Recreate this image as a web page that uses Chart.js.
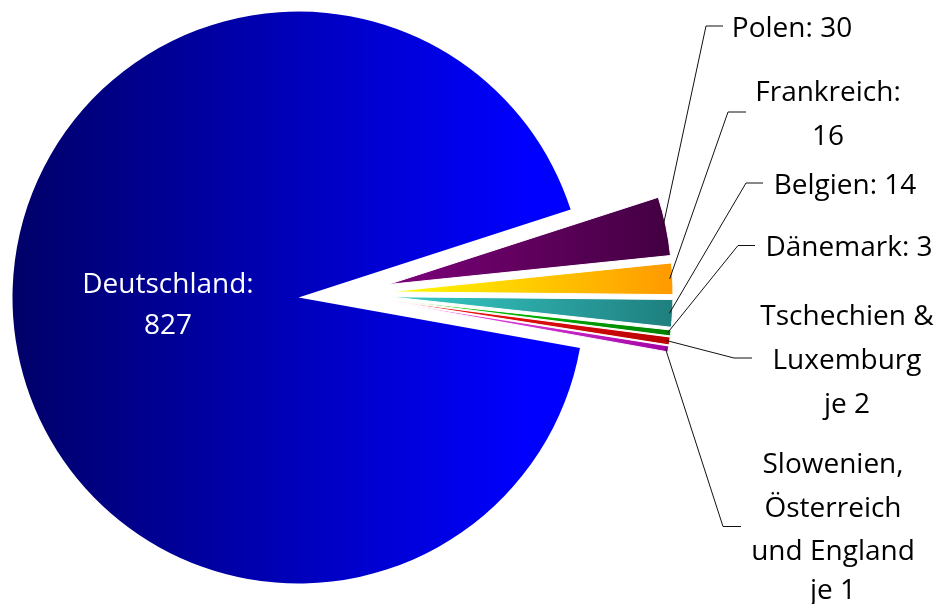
<!DOCTYPE html>
<html><head><meta charset="utf-8">
<script src="https://cdn.jsdelivr.net/npm/chart.js@4/dist/chart.umd.min.js"></script>
<style>
html,body{margin:0;padding:0;background:#fff;}
#wrap{position:relative;width:938px;height:604px;overflow:hidden;background:#fff;}
#wrap canvas{position:absolute;left:0;top:0;}
</style></head><body>
<div id="wrap"></div>
<script>
// ---- data ----
const categories = ['Polen', 'Frankreich', 'Belgien', 'Dänemark', 'Tschechien & Luxemburg', 'Slowenien, Österreich und England', 'Deutschland'];
const values = [30, 16, 14, 3, 4, 3, 827];
const labelLines = [
  ['Polen: 30'],
  ['Frankreich:', '16'],
  ['Belgien: 14'],
  ['Dänemark: 3'],
  ['Tschechien &', 'Luxemburg', 'je 2'],
  ['Slowenien,', 'Österreich', 'und England', 'je 1'],
  ['Deutschland:', '827']
];

// ---- styles / layout ----
const gradColors = [
  ['#7e007c', '#420040'],
  ['#ffff00', '#ff9900'],
  ['#38d0cc', '#1f7f7f'],
  ['#00dd00', '#007f00'],
  ['#ff1a1a', '#b80000'],
  ['#ff66ff', '#a000a0'],
  ['#000068', '#0000ff']
];
const FONT = '28px "Open Sans"';
const W = 938, H = 604;
const DE = categories.length - 1;
const ROT = 72.1;                        // degrees, Chart.js rotation
const MAIN = { cx: 298.5, cy: 297.5, r: 286 };
const GROUP = { cx: 343, cy: 294, r: 284, explode: 46 };

const labelLayout = [
  { cx: 792, base: [37], elbow: [706, 26], end: 723 },
  { cx: 828, base: [101, 145], elbow: [728, 112], end: 746 },
  { cx: 845, base: [194], elbow: [746, 183], end: 763 },
  { cx: 849, base: [256], elbow: [738, 245.5], end: 755 },
  { cx: 847, base: [325, 369, 412.5], elbow: [734, 358], end: 752 },
  { cx: 833, base: [473, 516.5, 559.5, 599], elbow: [723, 526.5], end: 741 },
  { cx: 168, base: [293, 334], color: '#ffffff' }
];

const textPlugin = {
  id: 'leaders',
  afterDatasetsDraw(chart, args, opts) {
    const i = opts.index;
    const L = labelLayout[i];
    const el = chart.getDatasetMeta(0).data[i];
    const p = el.getProps(['x', 'y', 'startAngle', 'endAngle', 'outerRadius'], true);
    const ctx = chart.ctx;
    ctx.save();
    if (L.elbow) {
      const mid = (p.startAngle + p.endAngle) / 2;
      const r = p.outerRadius - 3;
      ctx.strokeStyle = '#111';
      ctx.lineWidth = 1;
      ctx.beginPath();
      ctx.moveTo(p.x + Math.cos(mid) * r, p.y + Math.sin(mid) * r);
      ctx.lineTo(L.elbow[0], L.elbow[1]);
      ctx.lineTo(L.end, L.elbow[1]);
      ctx.stroke();
    }
    ctx.font = FONT;
    ctx.textAlign = 'center';
    ctx.textBaseline = 'alphabetic';
    ctx.fillStyle = L.color || '#000000';
    labelLines[i].forEach((t, k) => ctx.fillText(t, L.cx, L.base[k]));
    ctx.restore();
  }
};

const total = values.reduce((a, b) => a + b, 0);
function midAngle(i) {
  let before = 0;
  for (let k = 0; k < i; k++) before += values[k];
  const startDeg = ROT - 90 + before / total * 360;
  return (startDeg + values[i] / total * 180) * Math.PI / 180;
}

function makeChart(idx, cx, cy, radius, border, gx0, gx1) {
  const cv = document.createElement('canvas');
  cv.width = W; cv.height = H;
  document.getElementById('wrap').appendChild(cv);
  return new Chart(cv, {
    type: 'pie',
    data: {
      labels: categories,
      datasets: [{
        data: values,
        radius: radius,
        borderWidth: values.map((v, i) => i === idx ? border : 0),
        borderColor: '#ffffff',
        backgroundColor: (c) => {
          if (c.dataIndex !== idx) return 'rgba(0,0,0,0)';
          const g = c.chart.ctx.createLinearGradient(gx0, 0, gx1, 0);
          g.addColorStop(0, gradColors[idx][0]);
          g.addColorStop(1, gradColors[idx][1]);
          return g;
        }
      }]
    },
    options: {
      responsive: false,
      animation: false,
      events: [],
      rotation: ROT,
      layout: { padding: { left: 0, top: 0, right: W - 2 * cx, bottom: H - 2 * cy } },
      plugins: {
        legend: { display: false },
        tooltip: { enabled: false },
        leaders: { index: idx }
      }
    },
    plugins: [textPlugin]
  });
}

// Deutschland (not exploded)
makeChart(DE, MAIN.cx, MAIN.cy, MAIN.r, 0, MAIN.cx - MAIN.r, MAIN.cx + 230);
// exploded small slices
for (let i = 0; i < DE; i++) {
  const m = midAngle(i);
  const cx = GROUP.cx + Math.cos(m) * GROUP.explode;
  const cy = GROUP.cy + Math.sin(m) * GROUP.explode;
  makeChart(i, cx, cy, GROUP.r, 1, GROUP.cx + GROUP.explode - 6, GROUP.cx + GROUP.explode + GROUP.r);
}
</script>
</body></html>
